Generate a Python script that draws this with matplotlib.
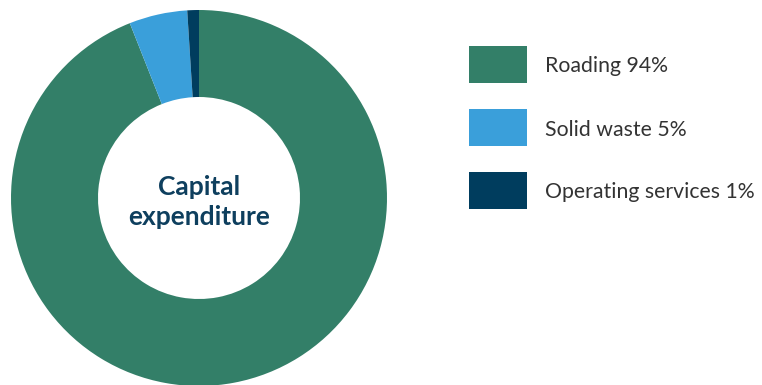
import matplotlib
matplotlib.use("Agg")
import matplotlib.pyplot as plt
from matplotlib.patches import Rectangle

categories = ["Roading", "Solid waste", "Operating services"]
values = [94, 5, 1]
colors = ["#337F68", "#3A9FDA", "#003D5E"]
center_title = "Capital\nexpenditure"

W, H = 762, 385
fig = plt.figure(figsize=(W / 100, H / 100), dpi=100)

cx, cy, R = 199, 198, 188
ax = fig.add_axes([(cx - R) / W, (H - cy - R) / H, 2 * R / W, 2 * R / H])
ax.pie(values, colors=colors, startangle=90, counterclock=False,
       radius=1.0, wedgeprops=dict(width=1 - 101 / 188, edgecolor="none"))
ax.set_xlim(-1, 1)
ax.set_ylim(-1, 1)
ax.set_aspect("equal")
ax.axis("off")
ax.text(0, -0.02, center_title, ha="center", va="center", fontsize=19,
        fontweight="bold", color="#0E3F5E", family="Lato", linespacing=1.3)

# legend drawn in figure pixel space
sw_x, sw_w, sw_h, top0, pitch, text_x = 469, 58, 37, 46, 63, 545
for i, (c, v, col) in enumerate(zip(categories, values, colors)):
    top = top0 + i * pitch
    fig.patches.append(Rectangle((sw_x / W, 1 - (top + sw_h) / H), sw_w / W, sw_h / H,
                                 transform=fig.transFigure, facecolor=col, edgecolor="none"))
    fig.text(text_x / W, 1 - (top + sw_h / 2) / H, f"{c} {v}%", ha="left", va="center_baseline",
             fontsize=15.3, family="Lato", color="#333333")

fig.savefig("out.png", dpi=100)
